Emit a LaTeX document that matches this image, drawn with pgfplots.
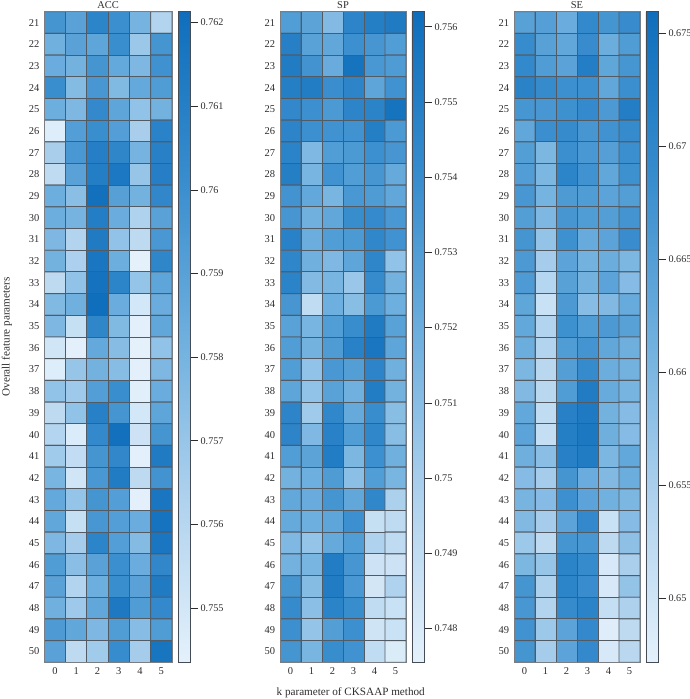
\documentclass[border=0pt]{standalone}
\usepackage{pgfplots}
\usepackage{fontspec}
\setmainfont{Liberation Serif}
\pgfplotsset{compat=1.18}
\definecolor{tx}{RGB}{45,45,45}
\definecolor{edge}{RGB}{82,90,100}
\definecolor{frame}{RGB}{120,126,132}
\pgfplotsset{
  colormap={blues}{rgb255=(228,241,251) rgb255=(175,210,238) rgb255=(110,175,222) rgb255=(55,140,205) rgb255=(15,110,188)},
  heat/.style={
    scale only axis, width=#1, height=650.6bp,
    xmin=-0.5, xmax=5.5, ymin=20.5, ymax=50.5,
    xtick={0,...,5}, ytick={21,...,50},
    major tick length=0pt,
    tick label style={font=\fontsize{10.5}{12}\selectfont, text=tx},
    xticklabel style={yshift=-2.2bp},
    yticklabel style={xshift=-1.5bp},
    /pgf/number format/assume math mode=true,
    /pgf/number format/1000 sep={},
    every axis title shift=0pt,
    title style={font=\fontsize{10.5}{12}\selectfont, text=tx, at={(0.5,1)}, anchor=base, yshift=3.7bp, inner sep=0bp},
    axis line style={draw=frame, line width=0.9pt},
    colorbar,
  },
  bar/.style 2 args={
    colorbar style={
      at={(1+6/127,1)}, anchor=north west,
      width=12.7bp, height=650.6bp,
      ytick={#1}, yticklabels={#2},
      xticklabel style={yshift=0bp},
      ytick pos=right, yticklabel pos=right,
      tick align=outside, major tick length=7bp,
      tick style={draw=tx, line width=0.6pt},
      axis line style={draw=edge!85!black, line width=0.9pt},
      yticklabel style={font=\fontsize{10.2}{12}\selectfont, text=tx, xshift=-0.6bp},
      scaled y ticks=false,
      y dir=normal,
    }
  },
  cells/.style={matrix plot, mesh/cols=6, mesh/ordering=x varies, point meta=explicit, draw=edge, line width=0.9pt, y dir=normal},
}
\begin{document}
\begin{tikzpicture}
\path[use as bounding box] (0,0) rectangle (690bp,699bp);

\begin{axis}[at={(44.3bp,36.7bp)}, heat=127.7bp, title={ACC}, y dir=normal,
  point meta min=0.75435, point meta max=0.76213,
  bar={0.755,0.756,0.757,0.758,0.759,0.76,0.761,0.762}{0.755,0.756,0.757,0.758,0.759,0.76,0.761,0.762}]
\addplot[cells] table[x expr={round(mod(\coordindex+0.1,6)-0.1)}, y expr={21+floor((\coordindex+0.5)/6)}, meta index=0, row sep=\\, header=false] {
.7597\\.7590\\.7607\\.7600\\.7580\\.7562\\
.7582\\.7590\\.7588\\.7601\\.7569\\.7597\\
.7584\\.7581\\.7597\\.7586\\.7578\\.7599\\
.7601\\.7576\\.7596\\.7577\\.7586\\.7593\\
.7583\\.7578\\.7604\\.7588\\.7572\\.7581\\
.7546\\.7592\\.7601\\.7592\\.7565\\.7608\\
.7565\\.7595\\.7610\\.7606\\.7580\\.7609\\
.7557\\.7590\\.7611\\.7615\\.7570\\.7610\\
.7583\\.7574\\.7620\\.7591\\.7581\\.7605\\
.7583\\.7580\\.7611\\.7584\\.7563\\.7590\\
.7578\\.7562\\.7613\\.7572\\.7558\\.7595\\
.7581\\.7564\\.7616\\.7583\\.7541\\.7606\\
.7558\\.7572\\.7619\\.7607\\.7571\\.7588\\
.7577\\.7582\\.7621\\.7584\\.7550\\.7584\\
.7578\\.7555\\.7606\\.7577\\.7544\\.7587\\
.7551\\.7544\\.7586\\.7575\\.7543\\.7572\\
.7546\\.7570\\.7581\\.7575\\.7544\\.7578\\
.7572\\.7568\\.7592\\.7601\\.7545\\.7584\\
.7558\\.7572\\.7609\\.7597\\.7550\\.7588\\
.7561\\.7547\\.7604\\.7620\\.7552\\.7597\\
.7567\\.7556\\.7597\\.7605\\.7544\\.7613\\
.7579\\.7551\\.7595\\.7612\\.7558\\.7598\\
.7586\\.7571\\.7597\\.7592\\.7544\\.7616\\
.7587\\.7555\\.7596\\.7592\\.7584\\.7618\\
.7578\\.7566\\.7607\\.7592\\.7576\\.7616\\
.7593\\.7574\\.7590\\.7600\\.7584\\.7605\\
.7590\\.7562\\.7583\\.7601\\.7590\\.7613\\
.7582\\.7568\\.7587\\.7614\\.7593\\.7604\\
.7594\\.7587\\.7578\\.7593\\.7575\\.7593\\
.7590\\.7558\\.7567\\.7602\\.7566\\.7617\\
};
\end{axis}

\begin{axis}[at={(280bp,36.7bp)}, heat=126bp, title={SP}, y dir=normal,
  point meta min=0.74755, point meta max=0.7562,
  bar={0.748,0.749,0.75,0.751,0.752,0.753,0.754,0.755,0.756}{0.748,0.749,0.75,0.751,0.752,0.753,0.754,0.755,0.756}]
\addplot[cells] table[x expr={round(mod(\coordindex+0.1,6)-0.1)}, y expr={21+floor((\coordindex+0.5)/6)}, meta index=0, row sep=\\, header=false] {
.7530\\.7526\\.7512\\.7546\\.7550\\.7553\\
.7549\\.7527\\.7524\\.7538\\.7534\\.7530\\
.7552\\.7536\\.7521\\.7558\\.7533\\.7531\\
.7550\\.7551\\.7539\\.7546\\.7525\\.7537\\
.7543\\.7538\\.7532\\.7546\\.7547\\.7558\\
.7546\\.7538\\.7537\\.7537\\.7550\\.7532\\
.7547\\.7513\\.7530\\.7532\\.7538\\.7534\\
.7550\\.7515\\.7537\\.7530\\.7534\\.7522\\
.7536\\.7523\\.7515\\.7533\\.7531\\.7524\\
.7534\\.7518\\.7524\\.7540\\.7542\\.7533\\
.7548\\.7520\\.7530\\.7532\\.7544\\.7537\\
.7545\\.7518\\.7513\\.7525\\.7545\\.7507\\
.7547\\.7512\\.7515\\.7504\\.7541\\.7517\\
.7534\\.7490\\.7519\\.7510\\.7532\\.7519\\
.7527\\.7515\\.7530\\.7540\\.7553\\.7527\\
.7530\\.7517\\.7531\\.7548\\.7556\\.7525\\
.7530\\.7507\\.7533\\.7529\\.7546\\.7518\\
.7525\\.7507\\.7527\\.7518\\.7551\\.7517\\
.7546\\.7502\\.7544\\.7522\\.7540\\.7510\\
.7546\\.7513\\.7548\\.7530\\.7544\\.7510\\
.7530\\.7526\\.7551\\.7514\\.7538\\.7518\\
.7517\\.7519\\.7531\\.7509\\.7530\\.7515\\
.7523\\.7521\\.7535\\.7524\\.7544\\.7498\\
.7522\\.7519\\.7525\\.7538\\.7488\\.7491\\
.7513\\.7506\\.7522\\.7530\\.7497\\.7491\\
.7517\\.7515\\.7551\\.7534\\.7485\\.7485\\
.7535\\.7511\\.7552\\.7533\\.7483\\.7497\\
.7541\\.7509\\.7547\\.7540\\.7490\\.7487\\
.7538\\.7506\\.7529\\.7538\\.7484\\.7486\\
.7535\\.7515\\.7540\\.7537\\.7490\\.7479\\
};
\end{axis}

\begin{axis}[at={(514bp,36.7bp)}, heat=126bp, title={SE}, y dir=normal,
  point meta min=0.64717, point meta max=0.67596,
  bar={0.65,0.655,0.66,0.665,0.67,0.675}{0.65,0.655,0.66,0.665,0.67,0.675}]
\addplot[cells] table[x expr={round(mod(\coordindex+0.1,6)-0.1)}, y expr={21+floor((\coordindex+0.5)/6)}, meta index=0, row sep=\\, header=false] {
.6645\\.6648\\.6622\\.6696\\.6670\\.6687\\
.6688\\.6645\\.6632\\.6687\\.6620\\.6655\\
.6696\\.6655\\.6642\\.6722\\.6635\\.6668\\
.6712\\.6690\\.6680\\.6680\\.6632\\.6682\\
.6668\\.6665\\.6678\\.6693\\.6660\\.6722\\
.6632\\.6682\\.6690\\.6667\\.6675\\.6690\\
.6650\\.6600\\.6682\\.6663\\.6648\\.6682\\
.6652\\.6600\\.6705\\.6675\\.6632\\.6678\\
.6665\\.6608\\.6657\\.6655\\.6640\\.6650\\
.6650\\.6598\\.6667\\.6655\\.6650\\.6672\\
.6670\\.6575\\.6678\\.6625\\.6640\\.6685\\
.6660\\.6555\\.6640\\.6610\\.6620\\.6600\\
.6658\\.6535\\.6645\\.6610\\.6640\\.6590\\
.6635\\.6510\\.6660\\.6588\\.6595\\.6625\\
.6630\\.6540\\.6678\\.6655\\.6660\\.6645\\
.6620\\.6540\\.6655\\.6672\\.6632\\.6615\\
.6600\\.6530\\.6650\\.6690\\.6620\\.6610\\
.6595\\.6530\\.6655\\.6725\\.6625\\.6605\\
.6630\\.6520\\.6715\\.6730\\.6610\\.6590\\
.6640\\.6515\\.6720\\.6735\\.6615\\.6590\\
.6615\\.6585\\.6715\\.6725\\.6600\\.6630\\
.6590\\.6555\\.6670\\.6622\\.6595\\.6620\\
.6605\\.6590\\.6680\\.6640\\.6612\\.6600\\
.6595\\.6555\\.6640\\.6695\\.6510\\.6590\\
.6565\\.6525\\.6670\\.6665\\.6525\\.6580\\
.6600\\.6570\\.6710\\.6690\\.6490\\.6550\\
.6670\\.6545\\.6705\\.6685\\.6490\\.6575\\
.6665\\.6540\\.6690\\.6710\\.6515\\.6545\\
.6675\\.6565\\.6640\\.6695\\.6480\\.6525\\
.6670\\.6555\\.6640\\.6695\\.6490\\.6530\\
};
\end{axis}

\node[rotate=90, text=tx, font=\fontsize{11.2}{12}\selectfont, inner sep=0pt] at (7bp,362bp) {Overall feature parameters};
\node[text=tx, font=\fontsize{11.2}{12}\selectfont, inner sep=0pt] at (350.7bp,6.3bp) {k parameter of CKSAAP method};
\end{tikzpicture}
\end{document}
